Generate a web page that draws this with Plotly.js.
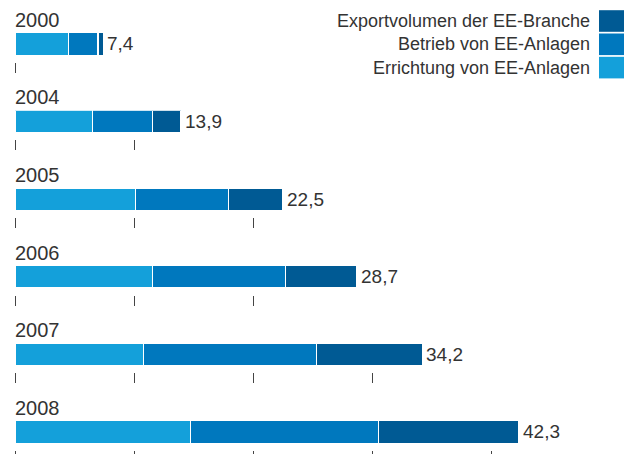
<!DOCTYPE html>
<html>
<head>
<meta charset="utf-8">
<script src="https://cdn.plot.ly/plotly-3.0.1.min.js"></script>
<style>html,body{margin:0;padding:0;background:#fff;}#chart{width:627px;height:454px;}</style>
</head>
<body>
<div id="chart"></div>
<script>
// ---- data ----
const years = ["2000", "2004", "2005", "2006", "2007", "2008"];
const errichtung = [4.5, 6.5, 10.1, 11.5, 10.8, 14.7];
const betrieb    = [2.45, 5.0, 7.8, 11.2, 14.5, 15.8];
const exportVol  = [0.45, 2.4, 4.6, 6.0, 8.9, 11.8];
const totals     = [7.4, 13.9, 22.5, 28.7, 34.2, 42.3];
const tickValues = [0, 10, 20, 30, 40];
const seriesNames = ["Errichtung von EE-Anlagen", "Betrieb von EE-Anlagen", "Exportvolumen der EE-Branche"];
const seriesColors = ["#14a0da", "#0078be", "#005a94"];

// ---- layout helpers ----
const W = 627, H = 454;
const FONT = "Liberation Sans, Arial, sans-serif";
const TXT = "#333333";
const pxPerUnit = 11.9, zeroPx = 15.3;
const xRange = [-zeroPx / pxPerUnit, (W - zeroPx) / pxPerUnit];
const firstBarTop = 32.7, panelStep = 77.6, barH = 22.5, tickGap = 6.5;

const series = [errichtung, betrieb, exportVol];
const traces = [];
const layout = {
  width: W, height: H,
  margin: {l: 0, r: 0, t: 0, b: 0},
  paper_bgcolor: "#fff", plot_bgcolor: "#fff",
  barmode: "stack",
  showlegend: false,
  font: {family: FONT, color: TXT},
  annotations: [],
  shapes: []
};

years.forEach((yr, i) => {
  const ax = i === 0 ? "" : String(i + 1);
  series.forEach((s, k) => {
    traces.push({
      type: "bar", orientation: "h",
      x: [s[i]], y: [0], width: 1,
      xaxis: "x" + ax, yaxis: "y" + ax,
      name: seriesNames[k],
      marker: {color: seriesColors[k], line: {color: "#ffffff", width: 1.2}},
      hoverinfo: "skip"
    });
  });
  const top = firstBarTop + panelStep * i;
  const bottom = top + barH + tickGap;
  layout["xaxis" + ax] = {
    domain: [0, 1], range: xRange, anchor: "y" + ax,
    showgrid: false, zeroline: false, showline: false,
    showticklabels: false, ticks: "outside", ticklen: 10, tickwidth: 1, tickcolor: "#444",
    tickmode: "array", tickvals: tickValues.filter(v => v <= totals[i])
  };
  layout["yaxis" + ax] = {
    domain: [(H - bottom) / H, (H - top) / H],
    range: [-0.5 - tickGap / barH, 0.5], anchor: "x" + ax,
    showgrid: false, zeroline: false, showline: false, showticklabels: false, ticks: ""
  };
  layout.annotations.push({
    xref: "x" + ax, yref: "y" + ax, x: 0, y: 0.5,
    xanchor: "left", yanchor: "bottom", xshift: -2, yshift: 0,
    text: yr, showarrow: false,
    font: {family: FONT, size: 20, color: TXT}
  });
  layout.annotations.push({
    xref: "x" + ax, yref: "y" + ax, x: totals[i], y: 0,
    xanchor: "left", yanchor: "middle", xshift: 2,
    text: totals[i].toFixed(1).replace(".", ","), showarrow: false,
    font: {family: FONT, size: 19, color: TXT}
  });
});

// ---- legend (text right-aligned, swatch on the right) ----
const legendOrder = [2, 1, 0];
legendOrder.forEach((k, r) => {
  const cy = 21 + 23.3 * r;
  layout.annotations.push({
    xref: "paper", yref: "paper", x: 592 / W, y: (H - cy) / H,
    xanchor: "right", yanchor: "middle", text: seriesNames[k], showarrow: false,
    font: {family: FONT, size: 18, color: TXT}
  });
  layout.shapes.push({
    type: "rect", xref: "paper", yref: "paper",
    x0: 599 / W, x1: 624 / W, y0: (H - (cy + 10.8)) / H, y1: (H - (cy - 10.8)) / H,
    fillcolor: seriesColors[k], line: {width: 0}
  });
});

Plotly.newPlot("chart", traces, layout, {staticPlot: true, displayModeBar: false});
</script>
</body>
</html>
